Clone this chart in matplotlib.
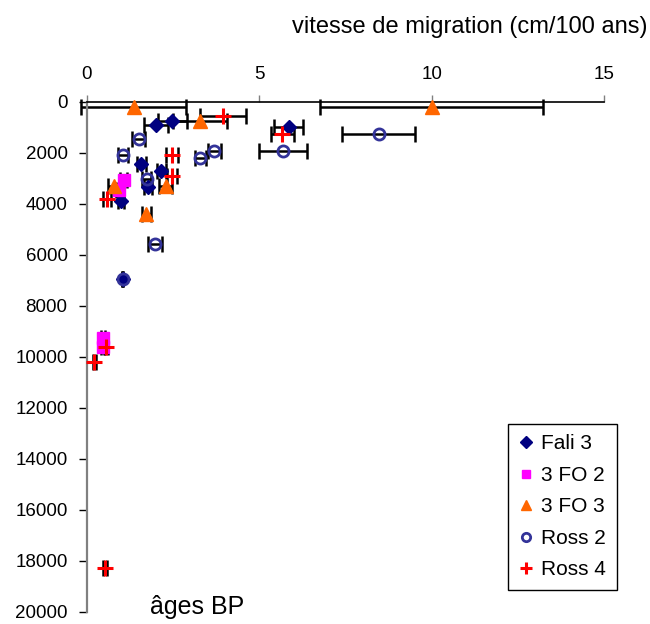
import matplotlib
matplotlib.use("Agg")
import matplotlib.pyplot as plt
from matplotlib.lines import Line2D

plt.rcParams['font.family'] = ['Liberation Sans', 'DejaVu Sans']

# ---- data ----
fali3_x = [2.00, 2.47, 5.86, 1.57, 2.16, 1.76, 0.99, 1.03]
fali3_y = [910, 745, 985, 2445, 2710, 3345, 3880, 6970]
fali3_err = [0.36, 0.42, 0.42, 0.13, 0.125, 0.12, 0.09, 0.02]

fo2_x = [1.07, 0.93, 0.46, 0.46]
fo2_y = [3070, 3460, 9250, 9600]
fo2_err = [0.10, 0.10, 0.05, 0.05]

fo3_x = [1.35, 10.0, 3.28, 2.28, 0.77, 1.72]
fo3_y = [200, 200, 750, 3305, 3310, 4400]
fo3_err = [1.52, 3.23, 0.78, 0.18, 0.17, 0.125]

ross2_x = [5.69, 8.47, 3.69, 3.28, 1.50, 1.05, 1.73, 1.97, 1.03]
ross2_y = [1925, 1285, 1950, 2210, 1480, 2105, 3020, 5580, 6970]
ross2_err = [0.69, 1.06, 0.19, 0.16, 0.18, 0.15, 0.12, 0.20, 0.02]

ross4_x = [3.94, 5.67, 2.47, 2.47, 0.57, 0.55, 0.21, 0.52]
ross4_y = [555, 1285, 2105, 2915, 3830, 9600, 10200, 18270]
ross4_err = [0.66, 0.34, 0.17, 0.135, 0.12, 0.05, 0.05, 0.05]

series_names = ["Fali 3", "3 FO 2", "3 FO 3", "Ross 2", "Ross 4"]
x_ticks = [0, 5, 10, 15]
y_ticks = list(range(0, 20001, 2000))

# ---- figure ----
fig = plt.figure(figsize=(6.5, 6.24), dpi=100)
ax = fig.add_axes([87/650, 1-612/624, (604-87)/650, (612-101.5)/624])

series = [
    (fali3_x, fali3_y, fali3_err, dict(marker='D', color='#000080', markersize=7.5, mfc='#000080', mec='#000080')),
    (fo2_x, fo2_y, fo2_err, dict(marker='s', color='#FF00FF', markersize=8, mfc='#FF00FF', mec='#FF00FF')),
    (fo3_x, fo3_y, fo3_err, dict(marker='^', color='#FF6600', markersize=10.5, mfc='#FF6600', mec='#FF6600')),
    (ross2_x, ross2_y, ross2_err, dict(marker='o', color='#333399', markersize=8, mfc='none', mec='#333399', mew=2)),
    (ross4_x, ross4_y, ross4_err, dict(marker='+', color='#FF0000', markersize=11, mec='#FF0000', mew=2.2)),
]

for x, y, e, st in series:
    cont = ax.errorbar(x, y, xerr=e, fmt='none', ecolor='black', elinewidth=1.8,
                       capsize=5.5, capthick=1.8, zorder=2)
    for art in cont.lines[1]:
        art.set_clip_on(False)
    for art in cont.lines[2]:
        art.set_clip_on(False)
    ax.plot(x, y, linestyle='none', zorder=3, clip_on=False, **st)

ax.set_xlim(0, 15)
ax.set_ylim(20000, 0)
ax.xaxis.tick_top()
ax.set_xticks(x_ticks)
ax.set_yticks(y_ticks)
ax.set_xticklabels([str(v) for v in x_ticks])
ax.set_yticklabels([str(v) for v in y_ticks])
ax.tick_params(axis='x', direction='out', length=5, width=1, color='#808080',
               labelsize=13.5, pad=8)
ax.tick_params(axis='y', direction='out', length=6, width=1, color='black',
               labelsize=13.5, pad=8)
for s in ['right', 'bottom']:
    ax.spines[s].set_visible(False)
ax.spines['top'].set_color('black')
ax.spines['top'].set_linewidth(1.2)
ax.spines['left'].set_color('#808080')
ax.spines['left'].set_linewidth(1.6)

fig.text(648/650, 1-27/624, 'vitesse de migration (cm/100 ans)', ha='right',
         va='center', fontsize=17)
fig.text(150/650, 1-607/624, 'âges BP', ha='left', va='center', fontsize=18)

handles = []
for (x, y, e, st), name in zip(series, series_names):
    st2 = dict(st)
    st2['markersize'] = st['markersize'] * 0.75
    handles.append(Line2D([], [], linestyle='none', **st2))
leg = fig.legend(handles, series_names, loc='upper left',
                 bbox_to_anchor=(508/650, 1-424/624), bbox_transform=fig.transFigure,
                 fontsize=15, frameon=True, fancybox=False, edgecolor='black',
                 framealpha=1, handlelength=0.7, handletextpad=0.4,
                 labelspacing=0.6, borderpad=0.5, borderaxespad=0)
leg.get_frame().set_linewidth(1.0)

fig.savefig('out.png', dpi=100)
